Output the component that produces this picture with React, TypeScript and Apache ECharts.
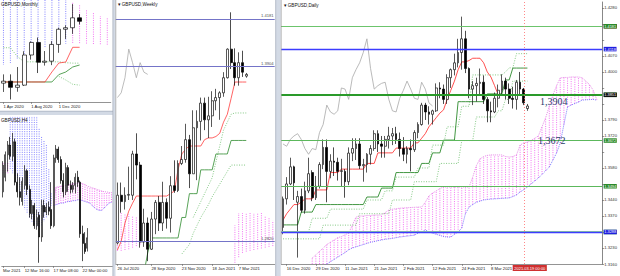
import React, { useEffect, useRef } from 'react';
import * as echarts from 'echarts';

// ---------------- DAILY ----------------
const dailyDates = [
  '2020.12.15','2020.12.16','2020.12.17','2020.12.18','2020.12.21','2020.12.22','2020.12.23','2020.12.24','2020.12.28','2020.12.29','2020.12.30','2020.12.31',
  '2021.01.04','2021.01.05','2021.01.06','2021.01.07','2021.01.08','2021.01.11','2021.01.12','2021.01.13','2021.01.14','2021.01.15','2021.01.18','2021.01.19','2021.01.20','2021.01.21','2021.01.22','2021.01.25','2021.01.26','2021.01.27','2021.01.28','2021.01.29',
  '2021.02.01','2021.02.02','2021.02.03','2021.02.04','2021.02.05','2021.02.08','2021.02.09','2021.02.10','2021.02.11','2021.02.12','2021.02.15','2021.02.16','2021.02.17','2021.02.18','2021.02.19','2021.02.22','2021.02.23','2021.02.24','2021.02.25','2021.02.26',
  '2021.03.01','2021.03.02','2021.03.03','2021.03.04','2021.03.05','2021.03.08','2021.03.09','2021.03.10','2021.03.11','2021.03.12','2021.03.15','2021.03.16','2021.03.17','2021.03.18','2021.03.19','2021.03.22',
];
// [open, close, low, high]
const dailyOHLC = [
  [1.3320,1.3445,1.3290,1.3455],[1.3445,1.3510,1.3420,1.3540],[1.3510,1.3585,1.3505,1.3625],[1.3585,1.3515,1.3440,1.3590],
  [1.3430,1.3455,1.3188,1.3480],[1.3455,1.3395,1.3385,1.3490],[1.3395,1.3480,1.3380,1.3520],[1.3480,1.3555,1.3470,1.3625],
  [1.3560,1.3450,1.3435,1.3570],[1.3450,1.3500,1.3440,1.3545],[1.3500,1.3595,1.3490,1.3605],[1.3595,1.3670,1.3575,1.3705],
  [1.3670,1.3565,1.3430,1.3705],[1.3565,1.3610,1.3535,1.3640],[1.3610,1.3605,1.3545,1.3670],[1.3605,1.3565,1.3525,1.3625],
  [1.3565,1.3568,1.3500,1.3620],[1.3565,1.3520,1.3450,1.3575],[1.3520,1.3645,1.3505,1.3670],[1.3645,1.3665,1.3610,1.3710],
  [1.3665,1.3685,1.3615,1.3710],[1.3685,1.3590,1.3575,1.3710],[1.3590,1.3595,1.3520,1.3620],[1.3595,1.3640,1.3560,1.3645],
  [1.3640,1.3665,1.3595,1.3680],[1.3665,1.3730,1.3655,1.3745],[1.3730,1.3685,1.3650,1.3745],[1.3685,1.3675,1.3625,1.3720],
  [1.3675,1.3705,1.3625,1.3720],[1.3705,1.3720,1.3665,1.3760],[1.3720,1.3730,1.3680,1.3755],[1.3730,1.3705,1.3685,1.3760],
  [1.3705,1.3665,1.3630,1.3735],[1.3665,1.3640,1.3610,1.3715],[1.3640,1.3665,1.3600,1.3675],[1.3665,1.3660,1.3565,1.3705],
  [1.3660,1.3735,1.3650,1.3745],[1.3735,1.3770,1.3710,1.3780],[1.3770,1.3855,1.3765,1.3865],[1.3855,1.3825,1.3790,1.3865],
  [1.3825,1.3815,1.3770,1.3850],[1.3815,1.3830,1.3770,1.3835],[1.3830,1.3930,1.3825,1.3950],[1.3930,1.3925,1.3885,1.3955],
  [1.3925,1.3880,1.3860,1.3945],[1.3880,1.3975,1.3860,1.3990],[1.3975,1.4010,1.3930,1.4015],[1.4010,1.4040,1.3985,1.4080],
  [1.4040,1.4085,1.4020,1.4145],[1.4085,1.4145,1.4010,1.4242],[1.4145,1.4015,1.3995,1.4180],[1.4015,1.3925,1.3885,1.4020],
  [1.3925,1.3940,1.3855,1.3960],[1.3940,1.3950,1.3870,1.3975],[1.3950,1.3955,1.3900,1.4015],[1.3955,1.3880,1.3860,1.3985],
  [1.3880,1.3830,1.3780,1.3890],[1.3830,1.3825,1.3780,1.3870],[1.3825,1.3885,1.3820,1.3910],[1.3885,1.3920,1.3845,1.3945],
  [1.3920,1.3960,1.3900,1.3990],[1.3960,1.3925,1.3880,1.3975],[1.3925,1.3885,1.3860,1.3950],[1.3885,1.3880,1.3840,1.3935],
  [1.3880,1.3955,1.3835,1.3965],[1.3955,1.3925,1.3895,1.4000],[1.3925,1.3865,1.3855,1.3930],[1.3840,1.3851,1.3830,1.3860],
];
const dailyTenkan = [
  1.3352,1.3380,1.3400,1.3420,1.3420,1.3430,1.3445,1.3445,1.3445,1.3484,1.3484,1.3484,1.3484,1.3560,1.3560,1.3560,
  1.3575,1.3575,1.3575,1.3575,1.3575,1.3575,1.3575,1.3600,1.3600,1.3600,
  1.3646,1.3646,1.3646,1.3646,1.3646,1.3667,1.3667,1.3667,1.3667,1.3667,1.3690,1.3690,
  1.3710,1.3730,1.3760,1.3780,1.3800,1.3820,1.3834,1.3880,1.3920,1.3960,1.4010,1.4044,1.4044,1.4050,1.4060,1.4060,1.4060,1.4040,1.4000,1.3978,1.3940,
  1.3900,1.3900,1.3900,1.3900,1.3900,1.3900,1.3900,1.3900,1.3900,
];
const dailyKijun = [
  1.3331,1.3331,1.3331,1.3331,1.3331,1.3387,1.3387,1.3387,1.3387,
  1.3420,1.3420,1.3420,1.3420,1.3420,1.3420,1.3420,1.3420,1.3420,1.3420,1.3420,1.3420,1.3420,1.3420,
  1.3453,1.3453,1.3453,1.3453,1.3492,1.3492,1.3492,1.3492,
  1.3560,1.3560,1.3560,1.3560,1.3560,1.3560,1.3560,1.3600,1.3600,1.3600,1.3646,1.3646,1.3646,
  1.3702,1.3702,1.3702,1.3702,1.3870,1.3870,1.3870,1.3870,1.3870,1.3870,1.3870,1.3870,
  1.3904,1.3904,1.3904,1.3904,1.3904,1.3965,1.3965,1.4017,1.4017,1.4017,1.4017,1.4017,
];
const dailyDotUpper = [
  1.3300,1.3300,1.3300,1.3300,1.3300,1.3300,1.3300,1.3300,1.3360,1.3360,1.3360,1.3360,1.3360,
  1.3400,1.3400,1.3400,1.3400,1.3400,1.3400,1.3400,1.3400,1.3400,1.3400,
  1.3440,1.3440,1.3440,1.3440,1.3440,1.3480,1.3480,1.3480,
  1.3540,1.3540,1.3540,1.3540,1.3540,1.3540,1.3580,1.3580,1.3580,1.3580,
  1.3680,1.3680,1.3680,1.3680,1.3760,1.3760,1.3760,1.3760,1.3850,1.3850,1.3850,
  1.3987,1.3987,1.3987,1.3987,1.3987,1.3987,1.3987,1.3987,1.3987,1.4000,1.4018,1.4018,1.4080,1.4080,1.4080,1.4080,
];
const dailyDotLower = [
  1.3270,1.3270,1.3270,1.3270,1.3270,1.3270,1.3270,1.3270,1.3270,1.3270,1.3270,
  1.3330,1.3330,1.3330,1.3330,1.3330,1.3330,1.3330,1.3330,1.3330,1.3330,
  1.3380,1.3380,1.3380,1.3380,1.3380,1.3380,1.3380,1.3380,1.3380,
  1.3440,1.3440,1.3440,1.3440,1.3440,1.3440,
  1.3520,1.3520,1.3520,1.3520,1.3520,1.3520,1.3520,
  1.3600,1.3600,1.3600,1.3600,1.3600,1.3600,
  1.3700,1.3700,1.3700,1.3700,1.3803,1.3803,1.3803,1.3803,1.3803,1.3803,
  1.3830,1.3830,1.3880,1.3880,1.3960,1.3960,1.3960,1.3960,1.3960,
];
// Senkou span A (lower, blue edge) and span B (upper) – 88 slots incl. 20 future bars
const dailySpanA = [
  null,null,null,null,null,null,null,null,
  1.3120,1.3130,1.3140,1.3150,1.3160,1.3170,1.3180,1.3190,1.3200,1.3210,1.3222,1.3230,1.3235,1.3240,1.3245,1.3250,1.3255,1.3258,1.3262,1.3265,
  1.3268,1.3270,1.3272,1.3275,1.3278,1.3280,1.3282,1.3284,1.3286,1.3295,1.3300,1.3309,1.3300,1.3295,1.3290,1.3285,1.3280,1.3278,1.3278,1.3290,
  1.3300,1.3317,1.3380,1.3409,1.3420,1.3430,1.3435,1.3440,1.3442,1.3444,1.3445,1.3446,1.3447,1.3448,1.3449,1.3455,1.3462,1.3475,1.3485,1.3497,
  1.3510,1.3523,1.3536,1.3552,1.3568,1.3584,1.3615,1.3646,1.3689,1.3770,1.3847,1.3855,1.3862,1.3868,1.3877,1.3878,1.3879,1.3880,1.3877,
  null,
];
const dailySpanB = [
  null,null,null,null,null,null,null,null,
  1.3186,1.3200,1.3215,1.3230,1.3245,1.3255,1.3265,1.3275,1.3280,1.3288,1.3295,1.3330,1.3365,1.3370,1.3370,1.3372,1.3372,1.3374,1.3374,1.3374,
  1.3385,1.3396,1.3400,1.3402,1.3404,1.3405,1.3406,1.3407,1.3408,1.3409,1.3409,1.3430,1.3458,1.3470,1.3480,1.3490,1.3497,1.3497,1.3497,1.3497,
  1.3497,1.3497,1.3497,1.3497,1.3540,1.3590,1.3620,1.3630,1.3635,1.3637,1.3637,1.3637,1.3637,1.3630,1.3628,1.3630,1.3637,1.3680,1.3690,1.3693,
  1.3700,1.3710,1.3720,1.3760,1.3800,1.3850,1.3900,1.3940,1.3974,1.3976,1.3976,1.3978,1.3978,1.3978,1.3975,1.3960,1.3945,1.3921,1.3880,
  null,
];
const dailyTickIdx = [1, 9, 17, 25, 33, 41, 49, 57];
const dailyTickText = ['16 Dec 2020','29 Dec 2020','11 Jan 2021','21 Jan 2021','2 Feb 2021','12 Feb 2021','24 Feb 2021','8 Mar 2021'];
const dailyLevels = [1.4242, 1.4181, 1.4118, 1.3904, 1.3672, 1.3494, 1.3318, 1.3288];
const dailyLastPrice = 1.3851;
const dailyCursorDate = '2021.03.19';
const dailyCursorText = '2021.03.19 00:00';
const dailyNotes = ['1,3904', '1,3672'];

// ---------------- WEEKLY ----------------
const weeklyDates = [
  '2020.07.26','2020.08.02','2020.08.09','2020.08.16','2020.08.23','2020.08.30','2020.09.06','2020.09.13','2020.09.20','2020.09.27',
  '2020.10.04','2020.10.11','2020.10.18','2020.10.25','2020.11.01','2020.11.08','2020.11.15','2020.11.22','2020.11.29','2020.12.06',
  '2020.12.13','2020.12.20','2020.12.27','2021.01.03','2021.01.10','2021.01.17','2021.01.24','2021.01.31','2021.02.07','2021.02.14',
  '2021.02.21','2021.02.28','2021.03.07','2021.03.14','2021.03.21',
];
const weeklyOHLC = [
  [1.2790,1.3090,1.2780,1.3170],[1.3090,1.3050,1.2980,1.3170],[1.3050,1.3090,1.3000,1.3140],[1.3090,1.3095,1.3060,1.3270],
  [1.3090,1.3350,1.3060,1.3370],[1.3350,1.3280,1.3190,1.3480],[1.3280,1.2795,1.2760,1.3300],[1.2795,1.2915,1.2765,1.3005],
  [1.2915,1.2750,1.2675,1.2950],[1.2750,1.2940,1.2745,1.2985],[1.2940,1.3045,1.2845,1.3060],[1.3045,1.2915,1.2865,1.3085],
  [1.2915,1.3045,1.2865,1.3175],[1.3045,1.2945,1.2880,1.3070],[1.2945,1.3150,1.2855,1.3210],[1.3150,1.3120,1.3105,1.3310],
  [1.3120,1.3290,1.3110,1.3310],[1.3290,1.3315,1.3280,1.3400],[1.3315,1.3440,1.3295,1.3540],[1.3440,1.3225,1.3135,1.3470],
  [1.3225,1.3515,1.3225,1.3625],[1.3515,1.3555,1.3185,1.3625],[1.3555,1.3670,1.3435,1.3705],[1.3670,1.3565,1.3500,1.3705],
  [1.3565,1.3590,1.3450,1.3710],[1.3590,1.3685,1.3520,1.3745],[1.3685,1.3705,1.3625,1.3760],[1.3705,1.3735,1.3565,1.3745],
  [1.3735,1.3830,1.3710,1.3865],[1.3830,1.4010,1.3825,1.4015],[1.4010,1.3925,1.3885,1.4242],[1.3925,1.3830,1.3780,1.4015],
  [1.3830,1.3925,1.3780,1.3990],[1.3925,1.3865,1.3835,1.4000],[1.3840,1.3851,1.3830,1.3860],
];
const weeklyTenkan = [
  1.2745,1.2800,1.2915,1.2990,1.3040,1.3085,1.3085,1.3085,1.3085,1.3085,1.3085,1.3085,1.3085,1.3085,1.3100,
  1.3116,1.3250,1.3350,1.3380,1.3400,1.3400,1.3400,1.3400,1.3440,1.3451,1.3451,1.3460,1.3480,1.3550,1.3600,
  1.3700,1.3803,1.3803,1.3803,1.3803,
];
const weeklyKijun = [
  1.2600,1.2600,1.2600,1.2600,1.2600,1.2600,1.2600,1.2600,1.2727,1.2821,1.2821,1.2821,1.2821,1.2821,1.2821,1.2821,1.2821,
  1.2950,1.2950,1.3100,1.3100,1.3100,1.3250,1.3250,1.3250,1.3250,1.3350,1.3350,1.3350,1.3350,
  1.3435,1.3435,1.3435,1.3435,1.3435,
];
const weeklyDotUpper = [
  null,null,null,null,null,null,null,null,null,null,null,null,null,null,null,null,null,null,null,null,
  1.2950,1.3000,1.3050,1.3100,1.3150,1.3200,1.3300,1.3400,1.3500,1.3550,1.3600,1.3608,1.3608,1.3608,1.3608,
];
const weeklyDotLower = [
  null,null,null,null,null,null,null,null,null,null,null,null,null,null,null,null,null,
  1.2720,1.2750,1.2780,1.2850,1.2900,1.2950,1.2990,1.3030,1.3080,1.3120,1.3160,1.3200,1.3240,
  1.3280,1.3280,1.3280,1.3280,1.3280,
];
const weeklySpanA = [
  1.2740,1.2740,1.2745,1.2750,1.2760,1.2770,1.2780,
  null,null,null,null,null,null,null,null,null,null,null,null,null,null,null,null,null,null,null,null,null,null,null,null,
  1.2650,1.2700,1.2727,1.2735,1.2740,1.2745,1.2750,1.2755,1.2760,1.2765,1.2770,
];
const weeklySpanB = [
  1.2980,1.2980,1.2975,1.2970,1.2960,1.2950,1.2940,
  null,null,null,null,null,null,null,null,null,null,null,null,null,null,null,null,null,null,null,null,null,null,null,null,
  1.2900,1.2978,1.2978,1.2978,1.2978,1.2978,1.2978,1.2978,1.2960,1.2950,1.2930,
];
const weeklyTickIdx = [0, 9, 17, 25, 32];
const weeklyTickText = ['26 Jul 2020','28 Sep 2020','23 Nov 2020','18 Jan 2021','7 Mar 2021'];
const weeklyLevels = [1.4181, 1.3904, 1.2820];

// ---------------- MONTHLY ----------------
const monthlyDates = ['2020.04','2020.05','2020.06','2020.07','2020.08','2020.09','2020.10','2020.11','2020.12','2021.01','2021.02','2021.03'];
const monthlyOHLC = [
  [1.2445,1.2490,1.2245,1.2645],[1.2490,1.2350,1.2075,1.2645],[1.2350,1.2400,1.2250,1.2812],[1.2400,1.3085,1.2380,1.3170],
  [1.3085,1.3370,1.2980,1.3395],[1.3370,1.2920,1.2675,1.3482],[1.2920,1.2945,1.2845,1.3175],[1.2945,1.3325,1.2855,1.3400],
  [1.3325,1.3670,1.3135,1.3705],[1.3670,1.3705,1.3450,1.3760],[1.3705,1.3930,1.3565,1.4242],[1.3930,1.3851,1.3780,1.4015],
];
const monthlyTenkan = [1.2472,1.2472,1.2472,1.2472,1.2472,1.2472,1.2472,1.2700,1.2903,1.2926,1.3260,1.3260];
const monthlyKijun = [1.2472,1.2472,1.2472,1.2472,1.2472,1.2472,1.2472,1.2472,1.2640,1.2699,1.2812,1.2858];
const monthlyDotUpper = [1.3250,1.3250,1.3050,1.2930,1.2930,1.2930,1.2930,1.2930,1.2930,1.2910,1.2900,1.2900];
const monthlyDotLower = [null,null,null,null,null,null,null,null,1.2600,1.2517,1.2420,1.2400];
const monthlySpanA = [1.47,1.47,1.47,1.47,1.47,1.47,1.47,1.47,1.47,1.44,1.3360,1.3355,1.3345,1.3335,1.3330,1.3320];
const monthlySpanB = [1.2860,1.2903,1.2980,1.3085,1.3150,1.3200,1.3250,1.3290,1.3320,1.3340,1.4290,1.4220,1.4110,1.4040,1.3970,1.3920];
const monthlyTickIdx = [0, 4, 8];
const monthlyTickText = ['1 Apr 2020','1 Aug 2020','1 Dec 2020'];

// ---------------- H4 ----------------
const h4OHLC = [
  [1.3922,1.3955,1.3915,1.3960],[1.3940,1.3968,1.3935,1.3972],[1.3968,1.3980,1.3947,1.3985],[1.3980,1.3966,1.3962,1.3990],
  [1.3966,1.3984,1.3960,1.3995],[1.3984,1.3934,1.3930,1.3988],[1.3934,1.3922,1.3915,1.3945],[1.3922,1.3915,1.3905,1.3940],
  [1.3910,1.3935,1.3905,1.3940],[1.3930,1.3948,1.3925,1.3955],[1.3948,1.3925,1.3918,1.3950],[1.3925,1.3895,1.3890,1.3930],
  [1.3895,1.3905,1.3888,1.3912],[1.3905,1.3880,1.3876,1.3908],[1.3880,1.3890,1.3875,1.3900],[1.3893,1.3866,1.3834,1.3897],
  [1.3866,1.3905,1.3860,1.3912],[1.3905,1.3897,1.3890,1.3912],[1.3897,1.3903,1.3893,1.3908],[1.3903,1.3898,1.3893,1.3910],
  [1.3900,1.3880,1.3876,1.3934],[1.3880,1.3964,1.3878,1.3968],[1.3964,1.3975,1.3958,1.3980],[1.3975,1.3962,1.3958,1.3978],
  [1.3962,1.3936,1.3932,1.3966],[1.3936,1.3922,1.3915,1.3945],[1.3922,1.3952,1.3918,1.3958],[1.3952,1.3930,1.3922,1.3955],
  [1.3930,1.3925,1.3920,1.3936],[1.3925,1.3930,1.3921,1.3934],[1.3930,1.3940,1.3920,1.3945],[1.3940,1.3934,1.3928,1.3948],
  [1.3934,1.3870,1.3865,1.3936],[1.3870,1.3858,1.3836,1.3880],[1.3858,1.3848,1.3845,1.3872],[1.3852,1.3865,1.3848,1.3877],
];
const h4SpanA = [
  1.3945,1.3945,1.3945,
  1.4020,1.4020,1.4020,1.4020,1.4020,1.4020,1.4020,1.4020,1.4020,1.4020,1.4020,1.4020,
  1.4000,1.3990,1.3985,1.3980,1.3950,1.3920,1.3905,
  1.3906,1.3907,1.3908,1.3908,1.3909,1.3910,1.3910,1.3911,1.3911,1.3912,1.3912,1.3911,1.3910,1.3909,1.3908,1.3905,1.3902,1.3900,1.3899,1.3899,1.3902,1.3905,1.3908,1.3909,
];
const h4SpanB = [
  1.3959,1.3959,1.3959,
  1.3950,1.3945,1.3940,1.3935,1.3920,1.3910,1.3900,1.3895,1.3890,1.3885,1.3880,1.3878,
  1.3878,1.3880,1.3885,1.3890,1.3900,1.3905,1.3910,
  1.3928,1.3928,1.3929,1.3929,1.3930,1.3930,1.3931,1.3932,1.3932,1.3933,1.3933,1.3932,1.3931,1.3929,1.3928,1.3927,1.3926,1.3925,1.3924,1.3923,1.3922,1.3922,1.3921,1.3921,
];
const h4TickIdx = [0, 9, 21, 33];
const h4TickText = ['Mar 2021','12 Mar 16:00','17 Mar 08:00','22 Mar 00:00'];

// ------------------------------------------------
const FONT = 'Liberation Sans';
const PINK = '#f050f0';
const BLUE = '#6464ff';

function slots(base: string[], extra: number, tag: string) {
  const out = base.slice();
  for (let k = 0; k < extra; k++) out.push(tag + k);
  return out;
}

function catAxis(gridIndex: number, cats: string[], tickIdx: number[], tickText: string[]) {
  const lookup: Record<number, string> = {};
  tickIdx.forEach((t, k) => { lookup[t] = tickText[k]; });
  return {
    type: 'category', gridIndex, data: cats, boundaryGap: true,
    axisLine: { show: true, lineStyle: { color: '#666', width: 0.7 } },
    axisTick: { show: true, alignWithLabel: true, interval: (i: number) => i in lookup, length: 2, lineStyle: { color: '#666', width: 0.6 } },
    axisLabel: {
      show: true, interval: (i: number) => i in lookup,
      formatter: (_v: string, i: number) => lookup[i] ?? '',
      fontSize: 4.2, color: '#222', margin: 2.5, align: 'left', fontFamily: FONT,
    },
    splitLine: { show: false },
  };
}

function hatch(ax: number, A: (number | null)[], B: (number | null)[], w = 0.8) {
  const data = A.map((a, i) => [i, a, B[i]]).filter((d) => d[1] != null && d[2] != null);
  return {
    type: 'custom', xAxisIndex: ax, yAxisIndex: ax, clip: true, silent: true, z: 1,
    encode: { x: 0, y: [1, 2] }, data,
    renderItem: (_p: any, api: any) => {
      const i = api.value(0), a = api.value(1), b = api.value(2);
      const p1 = api.coord([i, a]);
      const p2 = api.coord([i, b]);
      return {
        type: 'line',
        shape: { x1: p1[0], y1: p1[1], x2: p2[0], y2: p2[1] },
        style: { stroke: b > a ? PINK : BLUE, lineWidth: w, lineDash: [1, 1.3] },
      };
    },
  };
}

function line(ax: number, data: (number | null)[], color: string, width = 1, type: any = 'solid', z = 2) {
  return {
    type: 'line', xAxisIndex: ax, yAxisIndex: ax, data, symbol: 'none', showSymbol: false,
    connectNulls: false, clip: true, silent: true, z, lineStyle: { color, width, type },
  };
}

function candles(ax: number, data: number[][], barWidth: number, extra: any = {}) {
  return {
    type: 'candlestick', xAxisIndex: ax, yAxisIndex: ax, data, barWidth, clip: true, silent: true, z: 3,
    itemStyle: { color: '#ffffff', color0: '#000000', borderColor: '#111111', borderColor0: '#000000', borderWidth: 0.7 },
    ...extra,
  };
}

function hiddenY(gridIndex: number, min: number, max: number) {
  return { type: 'value', gridIndex, min, max, show: false, splitLine: { show: false }, scale: true };
}

export default function App() {
  const ref = useRef<HTMLDivElement>(null);
  useEffect(() => {
    if (!ref.current) return;
    const chart = echarts.init(ref.current, undefined, { renderer: 'svg' });

    const levelLine = ['#c04848', '#6cc46c', '#3c3cff', '#2a9a2a', '#5cb85c', '#5cb85c', '#93d393', '#3c3cff'];
    const levelWidth = [1, 1, 1.3, 2, 1, 1, 2.2, 1.3];
    const levelTag = ['#8c1e1e', '#2a8a2a', '#1e1ee0', '#1a8a1a', '#2a8a2a', '#2a8a2a', '#2a8a2a', '#1e1ee0'];
    const tagValues = [...dailyLevels, dailyLastPrice];
    const tagLabel = (bg: string, txt: string) => ({
      show: true, position: 'end', formatter: txt, backgroundColor: bg, color: '#fff',
      fontSize: 3.9, lineHeight: 4.2, fontFamily: FONT, padding: [0.3, 0.6, 0, 0.6], distance: 1.5,
    });

    const dailyCats = slots(dailyDates, 20, 'D+');
    const weeklyCats = slots(weeklyDates, 7, 'W+');
    const monthlyCats = slots(monthlyDates, 4, 'M+');
    const h4Cats = slots(h4OHLC.map((_, i) => 'H' + i), 10, 'H+');

    const option: any = {
      animation: false,
      backgroundColor: '#ffffff',
      grid: [
        { left: -9.25, top: 0, width: 120, height: 102 },
        { left: 0, top: 116, width: 112.7, height: 150 },
        { left: 115.5, top: 0, width: 159.2, height: 264 },
        { left: 281.2, top: 2, width: 322.8, height: 262 },
      ],
      xAxis: [
        catAxis(0, monthlyCats, monthlyTickIdx, monthlyTickText),
        catAxis(1, h4Cats, h4TickIdx, h4TickText),
        catAxis(2, weeklyCats, weeklyTickIdx, weeklyTickText),
        catAxis(3, dailyCats, dailyTickIdx, dailyTickText),
      ],
      yAxis: [
        hiddenY(0, 1.2017, 1.4335),
        hiddenY(1, 1.3830, 1.4016),
        hiddenY(2, 1.2657, 1.43195),
        {
          type: 'value', gridIndex: 3, position: 'right', min: 1.316, max: 1.4306, interval: 0.007,
          axisLine: { show: true, lineStyle: { color: '#555', width: 0.7 } },
          axisTick: { show: true, length: 2, lineStyle: { color: '#555', width: 0.6 } },
          axisLabel: {
            fontSize: 4.2, lineHeight: 4.4, color: '#333', margin: 2, fontFamily: FONT, showMaxLabel: false,
            formatter: (v: number) => (tagValues.some((t) => Math.abs(t - v) < 0.0034) ? '' : v.toFixed(4)),
          },
          splitLine: { show: false },
        },
      ],
      series: [
        // monthly
        hatch(0, monthlySpanA, monthlySpanB, 0.8),
        line(0, monthlyDotUpper, '#66bb66', 0.8, [1, 1.5]),
        line(0, monthlyDotLower, '#66bb66', 0.8, [1, 1.5]),
        line(0, monthlyKijun, '#2e8b2e', 0.8),
        line(0, monthlyTenkan, '#ff3c3c', 0.8),
        candles(0, monthlyOHLC, 4.5),
        // H4
        hatch(1, h4SpanA, h4SpanB, 0.8),
        line(1, h4SpanB.map((v, i) => (i >= 21 ? v : null)), '#e070e0', 0.8, [1, 1]),
        line(1, h4SpanA.map((v, i) => (i >= 21 ? v : null)), '#6464ff', 0.8, [1, 1]),
        candles(1, h4OHLC, 1.5),
        // weekly
        hatch(2, weeklySpanA, weeklySpanB, 0.8),
        line(2, weeklyOHLC.slice(26).map((d) => d[1]), '#a0a0a0', 0.7),
        line(2, weeklyDotUpper, '#66bb66', 0.8, [1, 1.5]),
        line(2, weeklyDotLower, '#66bb66', 0.8, [1, 1.5]),
        line(2, weeklyKijun, '#2e8b2e', 0.8),
        line(2, weeklyTenkan, '#ff3c3c', 0.8),
        candles(2, weeklyOHLC, 2.4, {
          markLine: {
            symbol: ['none', 'none'], silent: true, animation: false,
            lineStyle: { color: '#7474c8', width: 1, type: 'solid' },
            data: weeklyLevels.map((v) => ({
              yAxis: v,
              label: { show: true, position: 'insideEndTop', formatter: v.toFixed(4), fontSize: 4.2, color: '#555', fontFamily: FONT, distance: 1 },
            })),
          },
        }),
        // daily
        hatch(3, dailySpanA, dailySpanB, 0.8),
        line(3, dailySpanA, '#5a5aff', 0.8, [1, 1]),
        line(3, dailySpanB, '#e070e0', 0.8, [1, 1]),
        line(3, dailyOHLC.slice(26).map((d) => d[1]), '#a8a8a8', 0.8),
        line(3, dailyDotLower, '#66bb66', 0.8, [1, 1.5]),
        line(3, dailyDotUpper, '#66bb66', 0.8, [1, 1.5]),
        line(3, dailyKijun, '#2e8b2e', 0.9),
        line(3, dailyTenkan, '#ff3c3c', 0.9),
        candles(3, dailyOHLC, 2.2, {
          markLine: {
            symbol: ['none', 'none'], silent: true, animation: false,
            data: [
              ...dailyLevels.map((v, k) => ({
                yAxis: v,
                lineStyle: { color: levelLine[k], width: levelWidth[k], type: 'solid' },
                label: tagLabel(levelTag[k], v.toFixed(4)),
              })),
              { yAxis: dailyLastPrice, lineStyle: { width: 0, color: '#000' }, label: tagLabel('#111111', dailyLastPrice.toFixed(4)) },
              {
                xAxis: dailyCursorDate,
                lineStyle: { color: '#ff6a6a', width: 0.8, type: [1, 2] },
                label: {
                  show: true, position: 'start', formatter: dailyCursorText, backgroundColor: '#cf3030', color: '#fff',
                  fontSize: 4, fontFamily: FONT, padding: [1, 1.5], distance: 1, offset: [6, 0],
                },
              },
            ],
          },
        }),
      ],
      graphic: [
        { type: 'rect', z: 100, shape: { x: 112.7, y: 0, width: 2.8, height: 276 }, style: { fill: '#d3dae5' } },
        { type: 'line', z: 101, shape: { x1: 112.9, y1: 0, x2: 112.9, y2: 276 }, style: { stroke: '#9aa4b2', lineWidth: 0.6 } },
        { type: 'rect', z: 100, shape: { x: 0, y: 111, width: 113, height: 4 }, style: { fill: '#d3dae5' } },
        { type: 'line', z: 101, shape: { x1: 0, y1: 111.2, x2: 113, y2: 111.2 }, style: { stroke: '#9aa4b2', lineWidth: 0.6 } },
        { type: 'rect', z: 100, shape: { x: 275.5, y: 0, width: 5.2, height: 276 }, style: { fill: '#d3dae5' } },
        { type: 'line', z: 101, shape: { x1: 275.7, y1: 0, x2: 275.7, y2: 276 }, style: { stroke: '#9aa4b2', lineWidth: 0.6 } },
        { type: 'line', z: 101, shape: { x1: 281.2, y1: 0, x2: 281.2, y2: 264 }, style: { stroke: '#888', lineWidth: 0.6 } },
        { type: 'line', z: 101, shape: { x1: 115.8, y1: 0, x2: 115.8, y2: 264 }, style: { stroke: '#888', lineWidth: 0.6 } },
        { type: 'text', z: 102, x: 1, y: 2, style: { text: 'GBPUSD,Monthly', fontSize: 4.6, fontFamily: FONT, fill: '#111' } },
        { type: 'text', z: 102, x: 1, y: 117.5, style: { text: 'GBPUSD,H4', fontSize: 4.6, fontFamily: FONT, fill: '#111' } },
        { type: 'text', z: 102, x: 117.5, y: 2, style: { text: '▾ GBPUSD,Weekly', fontSize: 4.6, fontFamily: FONT, fill: '#111' } },
        { type: 'text', z: 102, x: 283.5, y: 3, style: { text: '▾ GBPUSD,Daily', fontSize: 4.6, fontFamily: FONT, fill: '#111' } },
        { type: 'text', z: 102, x: 540, y: 96, style: { text: dailyNotes[0], fontSize: 10, fontFamily: 'Liberation Serif', fill: '#2a3a6a' } },
        { type: 'text', z: 102, x: 538, y: 135, style: { text: dailyNotes[1], fontSize: 10, fontFamily: 'Liberation Serif', fill: '#2a3a6a' } },
      ],
    };
    chart.setOption(option);
    return () => chart.dispose();
  }, []);
  return (
    <div
      ref={ref}
      style={{ position: 'fixed', left: 0, top: 0, width: 620, height: 276, background: '#fff' }}
    />
  );
}
